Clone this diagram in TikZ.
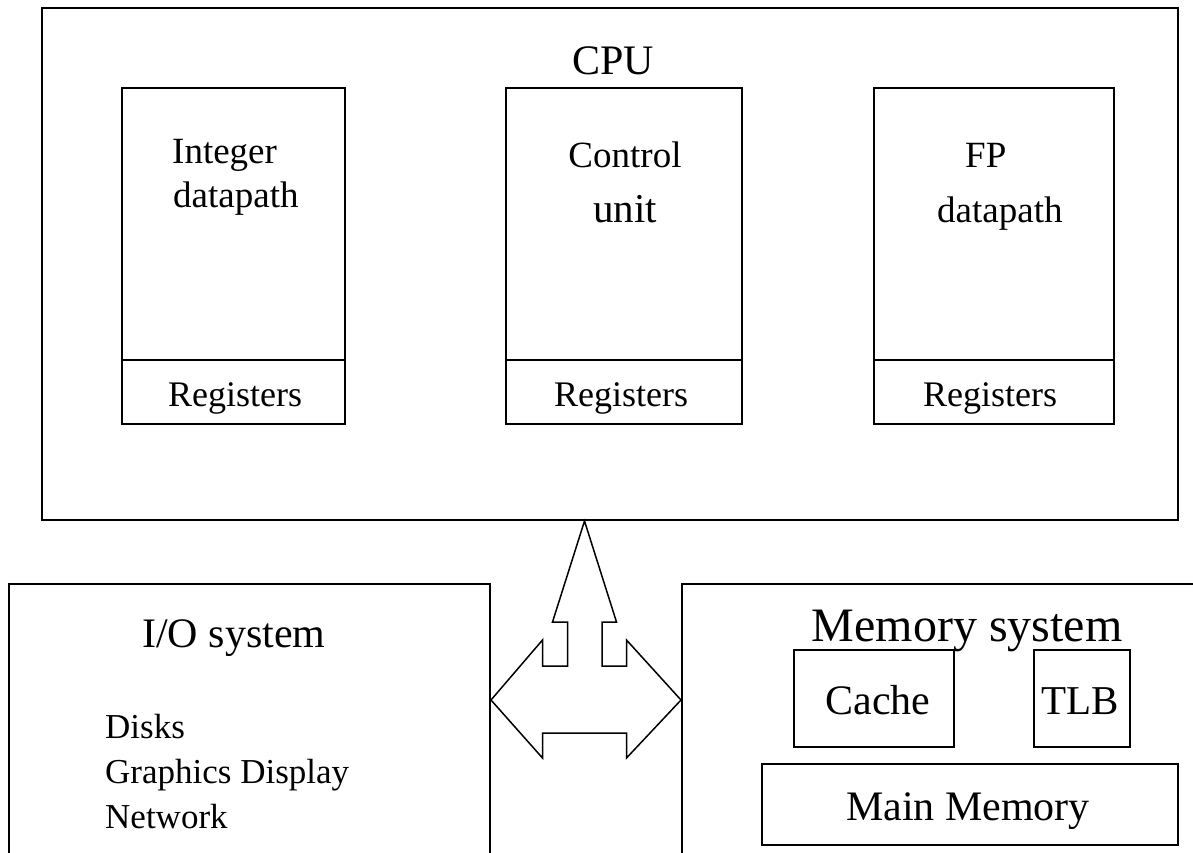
\documentclass[tikz,border=0pt]{standalone}
\usepackage{fontspec}
\setmainfont{Liberation Serif}
\begin{document}
\begin{tikzpicture}[x=1pt,y=-1pt,
  box/.style={draw, line width=2pt, rectangle, inner sep=0pt, anchor=north west},
  busline/.style={draw, line width=1.5pt, line join=miter},
  txt/.style={inner sep=0pt, anchor=base},
  txtl/.style={inner sep=0pt, anchor=base west},
  fs/.style={font=\fontsize{#1}{#1}\selectfont},
]
\useasboundingbox (0,0) rectangle (1193,852);
\clip (0,0) rectangle (1193,852);

% CPU and its three units
\node[box, minimum width=1136pt, minimum height=512pt] (cpu) at (41,7) {};
\node[txt, fs=42] (cpulbl) at (613,74) {CPU};

\node[box, minimum width=223pt, minimum height=272pt] (intdp) at (121,87) {};
\node[box, minimum width=223pt, minimum height=64pt] (intreg) at (121,359) {};
\node[txtl, fs=37] (intl1) at (172,163) {Integer};
\node[txtl, fs=37] (intl2) at (173,207) {datapath};
\node[txt, fs=36] (intregl) at (235,406) {Registers};

\node[box, minimum width=236pt, minimum height=272pt] (ctl) at (505,87) {};
\node[box, minimum width=236pt, minimum height=64pt] (ctlreg) at (505,359) {};
\node[txt, fs=37] (ctll1) at (625,167) {Control};
\node[txt, fs=41] (ctll2) at (625,222) {unit};
\node[txt, fs=36] (ctlregl) at (621,406) {Registers};

\node[box, minimum width=240pt, minimum height=272pt] (fpdp) at (873,87) {};
\node[box, minimum width=240pt, minimum height=64pt] (fpreg) at (873,359) {};
\node[txtl, fs=37] (fpl1) at (965,167) {FP};
\node[txtl, fs=37] (fpl2) at (937,222) {datapath};
\node[txt, fs=36] (fpregl) at (990,406) {Registers};

% I/O system
\node[box, minimum width=481pt, minimum height=300pt] (io) at (8,583) {};
\node[txtl, fs=42] (iolbl) at (142,647) {I/O system};
\node[txtl, fs=35] (io1) at (105,738) {Disks};
\node[txtl, fs=35] (io2) at (105,783) {Graphics Display};
\node[txtl, fs=35] (io3) at (105,828) {Network};

% Memory system
\node[box, minimum width=540pt, minimum height=300pt] (mem) at (681,583) {};
\node[txt, fs=48] (memlbl) at (967,641) {Memory system};
\node[box, minimum width=160pt, minimum height=97pt] (cache) at (793,649) {};
\node[txt, fs=42] (cachel) at (878,714) {Cache};
\node[box, minimum width=96pt, minimum height=97pt] (tlb) at (1033,649) {};
\node[txt, fs=41] (tlbl) at (1080,714) {TLB};
\node[box, minimum width=416pt, minimum height=81pt] (mainm) at (761,763) {};
\node[txt, fs=42] (mainl) at (968,820) {Main Memory};

% three-way bus arrow joining CPU, I/O and memory
\coordinate (busmid) at (584.5,700);
\begin{scope}[shift={(busmid)}]
\draw[busline] (io.east |- busmid) -- (-42,-60) -- (-42,-34) -- (-17,-34)
  -- (-17,-78) -- (-32,-78) -- (cpu.south -| busmid) -- (32,-78) -- (17.5,-78)
  -- (17.5,-34) -- (42,-34) -- (42,-60) -- (mem.west |- busmid) -- (42,58)
  -- (42,33) -- (-42,33) -- (-42,58) -- cycle;
\end{scope}
\end{tikzpicture}
\end{document}
